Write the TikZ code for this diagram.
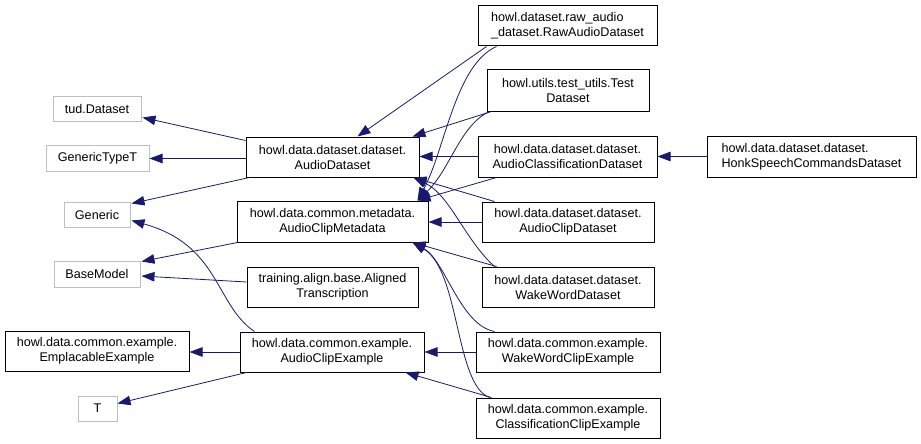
\documentclass[tikz,border=0pt]{standalone}
\usepackage{fontspec}
\setmainfont{Liberation Sans}
\usetikzlibrary{arrows.meta,calc}
\definecolor{edgeblue}{HTML}{191970}
\definecolor{extgray}{HTML}{BFBFBF}
\begin{document}
\begin{tikzpicture}[x=1pt,y=-1pt,
  every node/.style={font=\fontsize{12.6}{15}\selectfont, inner sep=0pt, text=black},
  cls/.style={draw=black, line width=1pt, align=center, fill=white},
  ext/.style={draw=extgray, line width=1pt, align=center, fill=white},
  edge/.style={draw=edgeblue, line width=0.8pt, -{Triangle[length=13pt,width=9.5pt]}, fill=none},
]
\useasboundingbox (0,0) rectangle (921,444);
% left column
\node[ext, minimum width=88pt, minimum height=25pt] (tud) at (97,108.5) {tud.Dataset};
\node[ext, minimum width=103pt, minimum height=26pt] (gtt) at (97.5,158.5) {GenericTypeT};
\node[ext, minimum width=66pt, minimum height=25pt] (gen) at (97,214.5) {Generic};
\node[ext, minimum width=86pt, minimum height=26pt] (bm) at (97,274) {BaseModel};
\node[cls, minimum width=184pt, minimum height=40pt] (emp) at (97,351) {howl.data.common.example.\\EmplacableExample};
\node[ext, minimum width=39pt, minimum height=25pt] (tT) at (97.5,408.5) {T};
% middle column
\node[cls, minimum width=173pt, minimum height=40pt] (ad) at (332.5,157) {howl.data.dataset.dataset.\\AudioDataset};
\node[cls, minimum width=191pt, minimum height=41pt] (acm) at (332.5,221.5) {howl.data.common.metadata.\\AudioClipMetadata};
\node[cls, minimum width=171pt, minimum height=40pt] (al) at (332.5,287) {training.align.base.Aligned\\Transcription};
\node[cls, minimum width=184pt, minimum height=40pt] (ace) at (332,352) {howl.data.common.example.\\AudioClipExample};
% right column
\node[cls, minimum width=179pt, minimum height=40pt, align=left] (raw) at (567.5,26) {howl.dataset.raw\_audio\\\_dataset.RawAudioDataset};
\node[cls, minimum width=162pt, minimum height=41pt] (test) at (568,90.5) {howl.utils.test\_utils.Test\\Dataset};
\node[cls, minimum width=179pt, minimum height=41pt] (acd) at (567.5,156.5) {howl.data.dataset.dataset.\\AudioClassificationDataset};
\node[cls, minimum width=172pt, minimum height=40pt] (acdata) at (568,222) {howl.data.dataset.dataset.\\AudioClipDataset};
\node[cls, minimum width=172pt, minimum height=40pt] (wwd) at (568,287) {howl.data.dataset.dataset.\\WakeWordDataset};
\node[cls, minimum width=184pt, minimum height=40pt] (wwce) at (568,352) {howl.data.common.example.\\WakeWordClipExample};
\node[cls, minimum width=184pt, minimum height=40pt] (cce) at (568,418) {howl.data.common.example.\\ClassificationClipExample};
\node[cls, minimum width=209pt, minimum height=41pt, align=left] (honk) at (811.5,156.5) {howl.data.dataset.dataset.\\HonkSpeechCommandsDataset};
% edges
\draw[edge] ($(ad.north west)+(0,4)$) -- ($(tud.south east)+(1,-4)$);
\draw[edge] (gtt.east -| ad.west) -- (gtt.east);
\draw[edge] ($(ad.south west)+(4,0)$) -- ($(gen.north east)+(1,2)$);
\draw[edge] ($(acm.south west)+(1,0)$) -- ($(bm.north east)+(1,1)$);
\draw[edge] ($(al.west)+(0,-5)$) -- ($(bm.east)+(1,2)$);
\draw[edge] ($(ace.north west)+(15,0)$) .. controls (215,305) and (220,245) .. ($(gen.east)+(1,6)$);
\draw[edge] (ace.west) -- (ace.west -| emp.east);
\draw[edge] ($(ace.south west)+(7,0)$) -- ($(tT.east)+(0,-5)$);
\draw[edge] (acd.west) -- (acd.west -| ad.east);
\draw[edge] (honk.west) -- (honk.west -| acd.east);
\draw[edge] (acdata.west) -- (acdata.west -| acm.east);
\draw[edge] (wwce.west) -- (wwce.west -| ace.east);
\draw[edge] ($(cce.north west)+(16,0)$) -- ($(ace.south east)+(-19,0)$);
\draw[edge] ($(raw.south west)+(9,0)$) -- ($(ad.north west)+(112,0)$);
\draw[edge] ($(raw.south west)+(19,0)$) .. controls (455,65) and (445,150) .. ($(acm.north east)+(-11,0)$);
\draw[edge] ($(test.south west)+(5,0)$) -- ($(ad.north east)+(-7,0)$);
\draw[edge] ($(test.south west)+(3,0)$) .. controls (460,125) and (450,170) .. ($(acm.north east)+(-11,0)$);
\draw[edge] ($(acd.south west)+(19,0)$) -- ($(acm.north east)+(-11,0)$);
\draw[edge] ($(acdata.north west)+(13,0)$) -- ($(ad.south east)+(-6,0)$);
\draw[edge] ($(wwd.north west)+(13,0)$) .. controls (465,240) and (450,195) .. ($(ad.south east)+(-6,0)$);
\draw[edge] ($(wwd.north west)+(15,0)$) -- ($(acm.south east)+(-16,0)$);
\draw[edge] ($(wwce.north west)+(19,0)$) .. controls (460,325) and (445,260) .. ($(acm.south east)+(-16,0)$);
\draw[edge] ($(cce.north west)+(14,0)$) .. controls (455,385) and (460,270) .. ($(acm.south east)+(-16,0)$);
\end{tikzpicture}
\end{document}
